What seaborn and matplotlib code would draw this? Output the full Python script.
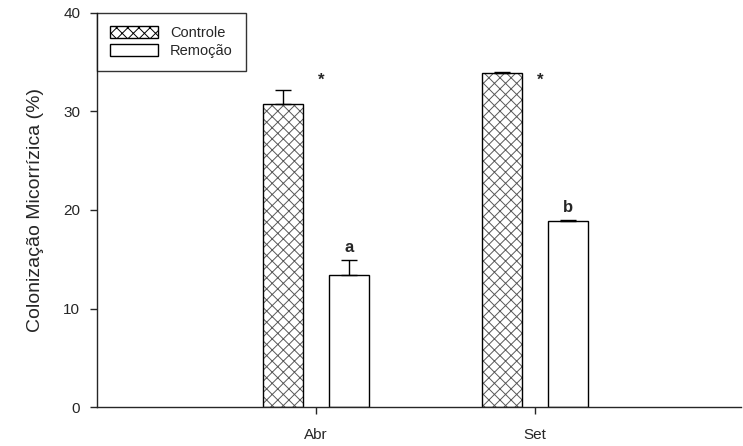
import pandas as pd
import matplotlib
matplotlib.use("Agg")
import matplotlib.pyplot as plt
import seaborn as sns
from matplotlib.patches import Patch

# data
meses = ["Abr", "Set"]
tratamentos = ["Controle", "Remoção"]
controle = [30.8, 33.9]
remocao = [13.4, 18.9]
erro_controle = [1.4, 0.1]
erro_remocao = [1.5, 0.1]
marcas_controle = ["*", "*"]
marcas_remocao = ["a", "b"]

df = pd.DataFrame({
    "mes": meses * 2,
    "tratamento": [tratamentos[0]] * 2 + [tratamentos[1]] * 2,
    "valor": controle + remocao,
})

sns.set_style("ticks")
plt.rcParams["font.family"] = ["Liberation Sans", "DejaVu Sans"]
plt.rcParams["hatch.linewidth"] = 0.7

fig = plt.figure(figsize=(7.43, 4.46), dpi=100)
ax = fig.add_axes([0.1306, 0.0874, 0.8664, 0.8835])

sns.barplot(data=df, x="mes", y="valor", hue="tratamento", order=meses,
            hue_order=tratamentos, width=0.61, gap=0.4, palette=["white", "white"],
            edgecolor="black", linewidth=1.0, legend=False, ax=ax)

# crosshatch on Controle bars
for bar in ax.containers[0]:
    bar.set_hatch("xxx")
    bar._hatch_color = (0.35, 0.35, 0.35, 1)

# upward error bars and letters
for cont, vals, errs, marks, is_ctrl in [
        (ax.containers[0], controle, erro_controle, marcas_controle, True),
        (ax.containers[1], remocao, erro_remocao, marcas_remocao, False)]:
    for bar, v, e, m in zip(cont, vals, errs, marks):
        xc = bar.get_x() + bar.get_width() / 2
        ax.errorbar(xc, v, yerr=[[0], [e]], fmt="none", ecolor="black",
                    elinewidth=1.0, capsize=6, capthick=1.0, zorder=3)
        if is_ctrl:
            ax.text(bar.get_x() + bar.get_width() + 0.085, 33.2, m,
                    ha="center", va="center", fontsize=12, fontweight="bold")
        else:
            ax.text(xc, v + e + 0.5, m, ha="center", va="bottom",
                    fontsize=12, fontweight="bold")

ax.set_xlim(-1, 1.94)
ax.set_ylim(0, 40)
ax.set_yticks([0, 10, 20, 30, 40])
ax.set_xlabel("")
ax.set_ylabel("Colonização Micorrízica (%)", fontsize=14, labelpad=14)
ax.tick_params(axis="y", labelsize=11, length=5, width=1, pad=7)
ax.tick_params(axis="x", labelsize=11, length=5, width=1, pad=10)
sns.despine(ax=ax)
ax.spines["left"].set_linewidth(1.0)
ax.spines["bottom"].set_linewidth(1.0)

handles = [Patch(facecolor="white", edgecolor="black", hatch="xxx", label="Controle"),
           Patch(facecolor="white", edgecolor="black", label="Remoção")]
leg = ax.legend(handles=handles, loc="upper left", bbox_to_anchor=(0, 1),
                fontsize=10.5, frameon=True, fancybox=False, edgecolor="black",
                handlelength=3.3, handleheight=0.9, borderpad=0.9,
                borderaxespad=0, labelspacing=0.25, handletextpad=0.8)
leg.get_frame().set_linewidth(1.0)

fig.savefig("out.png", dpi=100)
